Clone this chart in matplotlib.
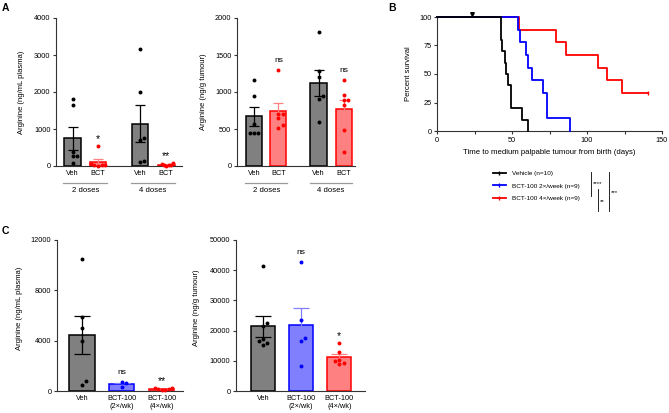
import numpy as np
import matplotlib
matplotlib.use("Agg")
import matplotlib.pyplot as plt
from matplotlib.lines import Line2D

plt.rcParams['font.family'] = ['Liberation Sans', 'DejaVu Sans']

W, H = 669, 413

# ---- Panel A: arginine after 2 / 4 doses
a_groups = ["2 doses", "4 doses"]
a_ticks = ["Veh", "BCT", "Veh", "BCT"]
a_kind = ["veh", "red", "veh", "red"]
a_plasma = [
    [1820, 1640, 390, 280, 260, 90],
    [540, 60, 40, 30, 20, 10],
    [3170, 2000, 770, 700, 130, 120],
    [80, 50, 30, 20, 20, 10],
]
a_plasma_sig = ["", "*", "", "**"]
a_tumour = [
    [1160, 940, 570, 450, 450, 450],
    [1294, 706, 706, 647, 552, 520],
    [1805, 1290, 1200, 940, 900, 590],
    [1163, 959, 891, 891, 823, 484, 190],
]
a_tumour_sig = ["", "ns", "", "ns"]

# ---- Panel B: time to palpable tumour (days), 1 = event, 0 = censored
b_labels = ["Vehicle (n=10)", "BCT-100 2×/week (n=9)", "BCT-100 4×/week (n=9)"]
b_vehicle_days = [42.5, 42.5, 43.5, 45, 46, 47.5, 49, 49.5, 56.5, 60.5]
b_vehicle_event = [1, 1, 1, 1, 1, 1, 1, 1, 1, 1]
b_2x_days = [54, 55, 59.5, 60.5, 63.5, 70.5, 73.5, 73.5, 88.5]
b_2x_event = [1, 1, 1, 1, 1, 1, 1, 1, 1]
b_4x_days = [54.5, 79, 86, 107, 113.5, 123.5, 140.5, 140.5, 140.5]
b_4x_event = [1, 1, 1, 1, 1, 1, 0, 0, 0]
b_dosing_day = 23
b_stats = ["****", "**", "***"]

# ---- Panel C: arginine, dose frequency
c_ticks = ["Veh", "BCT-100\n(2×/wk)", "BCT-100\n(4×/wk)"]
c_kind = ["veh", "blue", "red"]
c_plasma = [
    [10500, 5900, 5000, 3950, 800, 500],
    [690, 610, 290],
    [250, 200, 160, 120, 100, 80],
]
c_plasma_sig = ["", "ns", "**"]
c_tumour = [
    [41400, 22400, 21500, 17200, 16650, 16000, 15300],
    [42700, 23500, 17550, 16650, 8280],
    [16000, 12900, 10300, 10000, 9200, 8900],
]
c_tumour_sig = ["", "ns", "*"]

STYLE = {
    "veh": dict(face="#808080", edge="black", dot="black", err="black"),
    "blue": dict(face="#8080ff", edge="#0000ff", dot="#0000ff", err="#8080ff"),
    "red": dict(face="#ff8080", edge="#ff0000", dot="#ff0000", err="#ff8080"),
}
TICK_FS = 5.3
LABEL_FS = 5.5
SPINE = "#333333"

fig = plt.figure(figsize=(W / 100, H / 100), dpi=100)


def add_ax(left, top, right, bottom):
    """Axes placed by pixel edges."""
    ax = fig.add_axes([left / W, 1 - bottom / H, (right - left) / W, (bottom - top) / H])
    for s in ["top", "right"]:
        ax.spines[s].set_visible(False)
    for s in ["left", "bottom"]:
        ax.spines[s].set_color(SPINE)
        ax.spines[s].set_linewidth(0.8)
    ax.tick_params(axis="both", labelsize=TICK_FS, width=0.8, length=2.5, color=SPINE, pad=1.5)
    return ax


def swarm_x(ax, x0, vals, limit, dot_px=4.2):
    """Simple beeswarm: spread overlapping dots sideways, squeezed to fit the bar."""
    vals = np.asarray(vals, dtype=float)
    pts = ax.transData.transform(np.column_stack([np.full(len(vals), x0), vals]))
    px_per_x = ax.transData.transform((1, 0))[0] - ax.transData.transform((0, 0))[0]
    placed = []
    offs = np.zeros(len(vals))
    for i in np.argsort(pts[:, 1]):
        y = pts[i, 1]
        for k in range(30):
            off = 0 if k == 0 else ((k + 1) // 2) * dot_px * (1 if k % 2 else -1)
            if all((off - px) ** 2 + (y - py) ** 2 >= dot_px ** 2 for px, py in placed):
                break
        placed.append((off, y))
        offs[i] = off / px_per_x
    widest = np.abs(offs).max()
    if widest > limit:
        offs *= limit / widest
    return x0 + offs


def bar_dots(ax, pos, data, kinds, sigs, width, capsize, ymax):
    for x0, vals, kind, sig in zip(pos, data, kinds, sigs):
        st = STYLE[kind]
        vals = np.asarray(vals, dtype=float)
        mean = vals.mean()
        sem = vals.std(ddof=1) / np.sqrt(len(vals))
        ax.bar(x0, mean, width=width, color=st["face"], edgecolor=st["edge"], linewidth=1.1, zorder=2)
        ax.errorbar(x0, mean, yerr=sem, color=st["err"], capsize=capsize, elinewidth=0.9,
                    capthick=0.9, zorder=3)
        ax.scatter(swarm_x(ax, x0, vals, width * 0.42), vals, s=8, color=st["dot"], zorder=4,
                   clip_on=False, linewidths=0)
        if sig:
            top = max(vals.max(), mean + sem) + 0.065 * ymax
            star = sig.startswith("*")
            ax.text(x0, top - (0.02 * ymax if star else 0), sig, ha="center", va="center",
                    fontsize=7.5 if star else 6)


# ================= Panel A =================
a_pos = [0, 1, 2.65, 3.68]

axA1 = add_ax(56, 18, 182, 166)
axA1.set_xlim(-0.65, 4.3)
axA1.set_ylim(0, 4000)
axA1.set_yticks([0, 1000, 2000, 3000, 4000])
bar_dots(axA1, a_pos, a_plasma, a_kind, a_plasma_sig, 0.66, 3.4, 4000)
axA1.set_ylabel("Arginine (ng/mL plasma)", fontsize=LABEL_FS)
axA1.yaxis.set_label_coords(-31 / 126, 0.5)

axA2 = add_ax(237, 18, 355, 166)
axA2.set_xlim(-0.7, 4.15)
axA2.set_ylim(0, 2000)
axA2.set_yticks([0, 500, 1000, 1500, 2000])
bar_dots(axA2, a_pos, a_tumour, a_kind, a_tumour_sig, 0.66, 3.4, 2000)
axA2.set_ylabel("Arginine (ng/g tumour)", fontsize=LABEL_FS)
axA2.yaxis.set_label_coords(-30 / 118, 0.5)

for ax in (axA1, axA2):
    ax.set_xticks(a_pos)
    ax.set_xticklabels(a_ticks)
    ax.tick_params(axis="x", length=0, pad=3)
    trans = ax.get_xaxis_transform()
    for g, name in enumerate(a_groups):
        left, right = a_pos[2 * g] - 0.36, a_pos[2 * g + 1] + 0.36
        ax.plot([left, right], [-0.113, -0.113], transform=trans, color="#9a9a9a",
                lw=0.9, clip_on=False)
        ax.text((left + right) / 2, -0.165, name, transform=trans, ha="center",
                va="center", fontsize=5.6)

# ================= Panel B =================
def km_steps(times, events):
    t = np.asarray(times, dtype=float)
    e = np.asarray(events)
    xs, ys = [0.0], [100.0]
    surv, at_risk = 1.0, len(t)
    for u in np.unique(t):
        d = int(e[t == u].sum())
        c = int((t == u).sum()) - d
        if d:
            surv *= 1 - d / at_risk
            xs.append(u)
            ys.append(surv * 100)
        at_risk -= d + c
    if t.max() > xs[-1]:
        xs.append(t.max())
        ys.append(surv * 100)
    return xs, ys


axB = add_ax(437, 17, 662, 131)
axB.set_xlim(0, 150)
axB.set_ylim(0, 100)
axB.set_xticks([0, 50, 100, 150])
axB.set_xticks([25, 75, 125], minor=True)
axB.tick_params(axis="x", which="minor", length=2, width=0.8, color=SPINE)
axB.set_yticks([0, 25, 50, 75, 100])
b_series = [
    (b_vehicle_days, b_vehicle_event, "black", 4),
    (b_2x_days, b_2x_event, "#0000ff", 3),
    (b_4x_days, b_4x_event, "#ff0000", 2),
]
handles = []
for (days, ev, col, z), lab in zip(b_series, b_labels):
    xs, ys = km_steps(days, ev)
    axB.step(xs, ys, where="post", color=col, lw=1.3, zorder=z, clip_on=False)
    cens = [d for d, flag in zip(days, ev) if not flag]
    if cens:
        axB.plot(cens[:1], [ys[-1]], marker="|", ms=3, color=col, zorder=z, clip_on=False)
    handles.append(Line2D([], [], color=col, lw=1.3, marker="|", ms=3))
axB.plot([b_dosing_day], [103], marker="v", ms=2.6, color="black", clip_on=False, zorder=5)
axB.set_ylabel("Percent survival", fontsize=LABEL_FS)
axB.yaxis.set_label_coords(-25 / 225, 0.5)
axB.set_xlabel("Time to medium palpable tumour from birth (days)", fontsize=5.6, labelpad=4)

fig.legend(handles, b_labels, loc="upper left", bbox_to_anchor=(493 / W, 1 - 171 / H),
           frameon=False, fontsize=4.6, handlelength=2.0, handletextpad=1.0,
           labelspacing=1.05, borderpad=0, borderaxespad=0)

# significance brackets next to the legend
for x, y1, y2, lab, ty in [(591, 172, 196, b_stats[0], 184), (598, 189, 211, b_stats[1], 202),
                          (609, 172, 211, b_stats[2], 193)]:
    fig.add_artist(Line2D([x / W, x / W], [1 - y1 / H, 1 - y2 / H], color="black", lw=0.6))
    fig.text((x + 2) / W, 1 - ty / H, lab, fontsize=4.4, va="center", ha="left")

# ================= Panel C =================
c_pos = [0, 1, 2]

axC1 = add_ax(57, 240, 183, 391)
axC1.set_xlim(-0.625, 2.53)
axC1.set_ylim(0, 12000)
axC1.set_yticks([0, 4000, 8000, 12000])
bar_dots(axC1, c_pos, c_plasma, c_kind, c_plasma_sig, 0.63, 5.5, 12000)
axC1.set_ylabel("Arginine (ng/mL plasma)", fontsize=LABEL_FS)
axC1.yaxis.set_label_coords(-34 / 126, 0.55)

axC2 = add_ax(236, 240, 365, 391)
axC2.set_xlim(-0.7, 2.67)
axC2.set_ylim(0, 50000)
axC2.set_yticks([0, 10000, 20000, 30000, 40000, 50000])
bar_dots(axC2, c_pos, c_tumour, c_kind, c_tumour_sig, 0.63, 5.5, 50000)
axC2.set_ylabel("Arginine (ng/g tumour)", fontsize=LABEL_FS)
axC2.yaxis.set_label_coords(-36 / 129, 0.55)

for ax in (axC1, axC2):
    ax.set_xticks(c_pos)
    ax.set_xticklabels(c_ticks, linespacing=1.1)
    ax.tick_params(axis="x", length=0, pad=3)

# panel letters
for lab, x, y in [("A", 2, 3), ("B", 388, 3), ("C", 2, 226)]:
    fig.text(x / W, 1 - y / H, lab, fontsize=7.5, fontweight="bold", va="top", ha="left")

fig.savefig("out.png", dpi=100)
